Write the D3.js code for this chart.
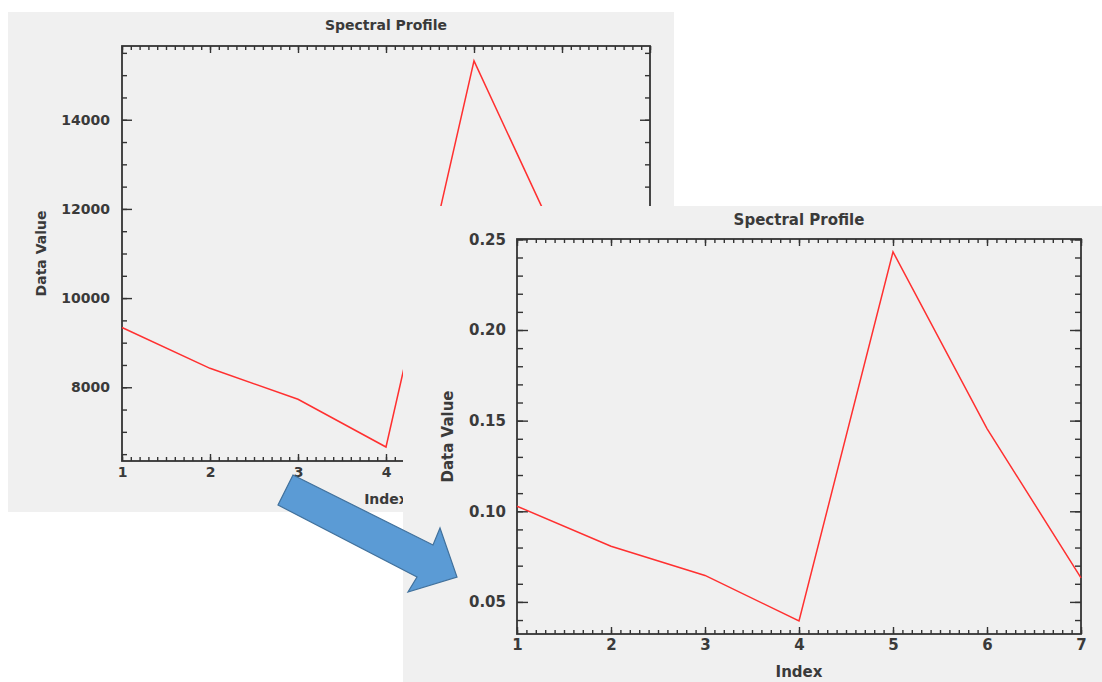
<!DOCTYPE html>
<html>
<head>
<meta charset="utf-8">
<script src="https://cdn.jsdelivr.net/npm/d3@7"></script>
<style>
  html, body { margin: 0; padding: 0; background: #fff; }
  svg { display: block; }
</style>
</head>
<body>
<div id="chart"></div>
<script>
// Data: index and the two versions of the profile
const indices = [1, 2, 3, 4, 5, 6, 7];
const rawValues = [9340, 8425, 7730, 6660, 15320, 11070, 7600];
const scaledValues = [0.1028, 0.0807, 0.0646, 0.0395, 0.2431, 0.1456, 0.0633];

// Tick labels
const xTicks = [1, 2, 3, 4, 5, 6, 7];
const rawYTicks = [8000, 10000, 12000, 14000];
const scaledYTicks = [0.05, 0.10, 0.15, 0.20, 0.25];

const FONT = 'DejaVu Sans, sans-serif';
const TEXT_COLOR = '#3a3a3a';

const svg = d3.select('#chart')
    .append('svg')
    .attr('width', 1102)
    .attr('height', 682);

// Draw one "Spectral Profile" window
function drawPanel(cfg) {
    const g = svg.append('g');

    // window background
    g.append('rect')
        .attr('x', cfg.box[0]).attr('y', cfg.box[1])
        .attr('width', cfg.box[2] - cfg.box[0])
        .attr('height', cfg.box[3] - cfg.box[1])
        .attr('fill', '#f0f0f0');

    const [left, top, right, bottom] = cfg.plot;
    const w = right - left, h = bottom - top;

    const x = d3.scaleLinear().domain([1, 7]).range([0, w]);
    const y = d3.scaleLinear().domain(cfg.yDomain).range([h, 0]);

    const p = g.append('g').attr('transform', `translate(${left},${top})`);

    const xMinor = d3.range(10, 71).map(d => d / 10);
    const yMinor = d3.range(Math.ceil(cfg.yDomain[0] / cfg.yMinorStep), Math.floor(cfg.yDomain[1] / cfg.yMinorStep) + 1)
        .map(d => d * cfg.yMinorStep);

    const styleAxis = sel => {
        sel.attr('font-size', cfg.fontSize)
            .attr('font-family', FONT)
            .attr('font-weight', 'bold');
        sel.select('.domain').remove();
        sel.selectAll('.tick line').attr('stroke', '#333').attr('stroke-width', 1.4);
        sel.selectAll('.tick text')
            .attr('font-size', cfg.fontSize)
            .attr('fill', TEXT_COLOR);
    };

    // minor ticks on all four sides
    p.append('g').attr('transform', `translate(0,${h})`)
        .call(d3.axisBottom(x).tickValues(xMinor).tickSize(-cfg.xMinorLen).tickFormat(''))
        .call(styleAxis);
    p.append('g')
        .call(d3.axisTop(x).tickValues(xMinor).tickSize(-cfg.xMinorLen).tickFormat(''))
        .call(styleAxis);
    p.append('g')
        .call(d3.axisLeft(y).tickValues(yMinor).tickSize(-cfg.yMinorLen).tickFormat(''))
        .call(styleAxis);
    p.append('g').attr('transform', `translate(${w},0)`)
        .call(d3.axisRight(y).tickValues(yMinor).tickSize(-cfg.yMinorLen).tickFormat(''))
        .call(styleAxis);

    // major ticks + labels
    p.append('g').attr('transform', `translate(0,${h})`)
        .call(d3.axisBottom(x).tickValues(xTicks).tickSize(-cfg.xMajorLen).tickPadding(cfg.xPad).tickFormat(d3.format('d')))
        .call(styleAxis);
    p.append('g')
        .call(d3.axisTop(x).tickValues(xTicks).tickSize(-cfg.xMajorLen).tickFormat(''))
        .call(styleAxis);
    p.append('g')
        .call(d3.axisLeft(y).tickValues(cfg.yTicks).tickSize(-cfg.yMajorLen).tickPadding(cfg.yPad).tickFormat(cfg.yFormat))
        .call(styleAxis);
    p.append('g').attr('transform', `translate(${w},0)`)
        .call(d3.axisRight(y).tickValues(cfg.yTicks).tickSize(-cfg.yMajorLen).tickFormat(''))
        .call(styleAxis);

    // frame
    p.append('rect')
        .attr('width', w).attr('height', h)
        .attr('fill', 'none')
        .attr('stroke', '#333')
        .attr('stroke-width', 1.8);

    // profile line
    const line = d3.line()
        .x((d, i) => x(indices[i]))
        .y(d => y(d));
    p.append('path')
        .datum(cfg.values)
        .attr('d', line)
        .attr('fill', 'none')
        .attr('stroke', '#ff3030')
        .attr('stroke-width', 1.5);

    // titles
    const label = (tx, ty, rot, str) => g.append('text')
        .attr('transform', `translate(${tx},${ty})` + (rot ? ' rotate(-90)' : ''))
        .attr('text-anchor', 'middle')
        .attr('font-family', FONT)
        .attr('font-weight', 'bold')
        .attr('font-size', cfg.fontSize)
        .attr('fill', TEXT_COLOR)
        .text(str);
    label(left + w / 2, cfg.titleY, false, 'Spectral Profile');
    label(left + w / 2, cfg.xLabelY, false, 'Index');
    label(cfg.yLabelX, top + h / 2, true, 'Data Value');
}

// back window: raw values
drawPanel({
    box: [8, 12, 674, 512],
    plot: [122, 46, 650, 461],
    yDomain: [6346, 15654],
    yTicks: rawYTicks,
    yFormat: d3.format('d'),
    yMinorStep: 500,
    values: rawValues,
    fontSize: 14,
    xMajorLen: 7, xMinorLen: 4,
    yMajorLen: 10, yMinorLen: 5,
    xPad: 6, yPad: 12,
    titleY: 30, xLabelY: 504, yLabelX: 46
});

// front window: scaled values
drawPanel({
    box: [403, 206, 1102, 682],
    plot: [517, 239, 1081, 634],
    yDomain: [0.0323, 0.2502],
    yTicks: scaledYTicks,
    yFormat: d3.format('.2f'),
    yMinorStep: 0.01,
    values: scaledValues,
    fontSize: 15,
    xMajorLen: 7, xMinorLen: 4,
    yMajorLen: 11, yMinorLen: 6,
    xPad: 5, yPad: 11,
    titleY: 225, xLabelY: 677, yLabelX: 453
});

// arrow from the back window to the front one, drawn over both
svg.append('polygon')
    .attr('points', '293,475 433,545 440,528 457,577 408,592 417,577 278,505')
    .attr('fill', '#5b9bd5')
    .attr('stroke', '#41719c')
    .attr('stroke-width', 1.2);
</script>
</body>
</html>
